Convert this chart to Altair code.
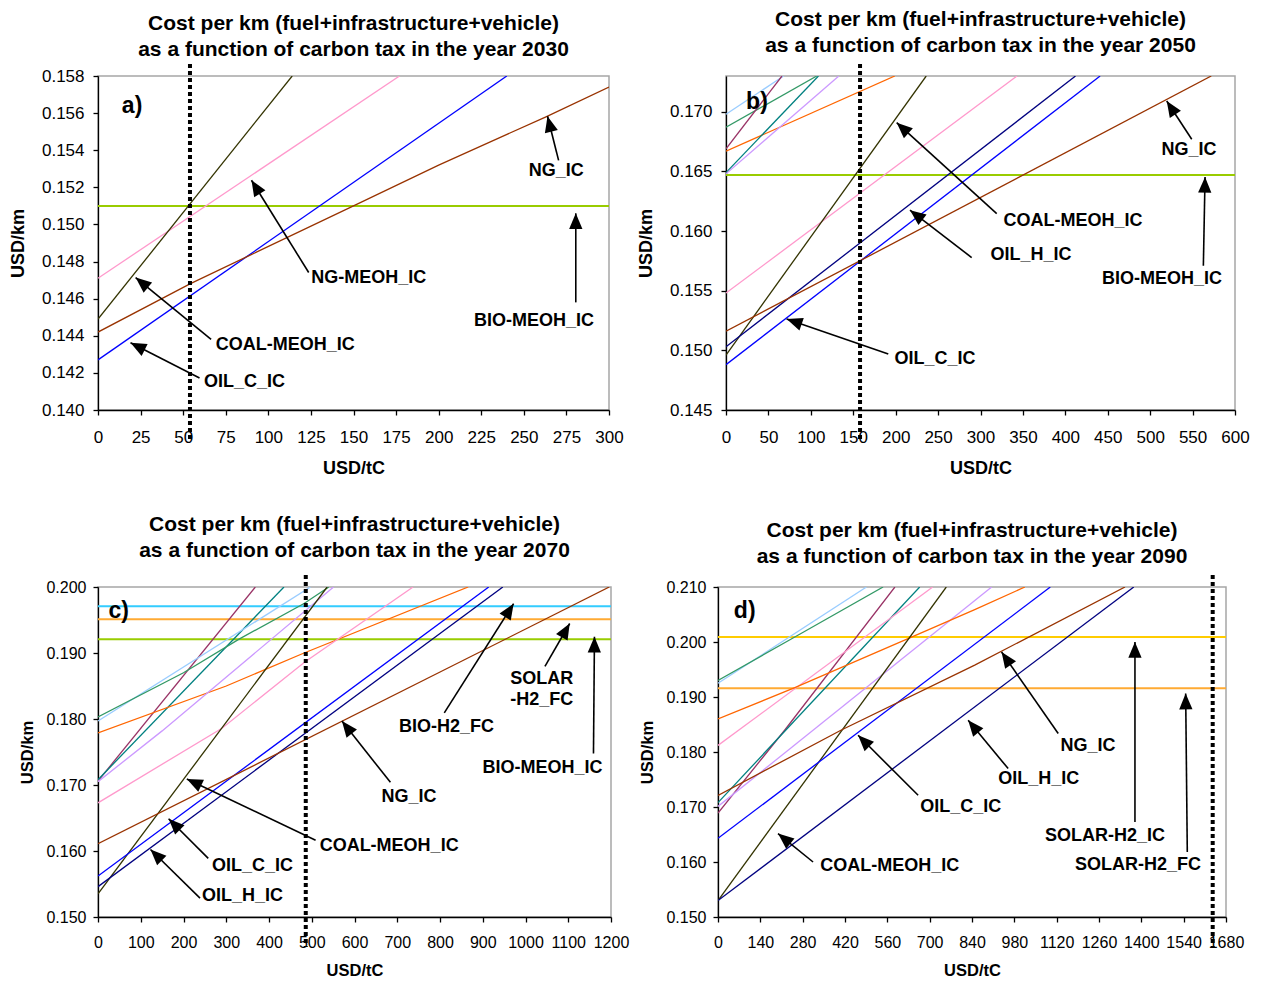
import math
import altair as alt
import pandas as pd

FONT = "Liberation Sans"

# ---------------- colours of the series ----------------
SERIES_COLORS = {
    "BIO-MEOH_IC": "#99CC00",
    "BIO-H2_FC": "#33CCFF",
    "SOLAR-H2_FC": "#FFAA33",
    "SOLAR-H2_IC": "#FFCC00",
    "other (light blue)": "#99CCFF",
    "other (green)": "#339966",
    "other (maroon)": "#993366",
    "other (teal)": "#008080",
    "other (lavender)": "#CC99FF",
    "other (orange)": "#FF6600",
    "NG-MEOH_IC": "#FF99CC",
    "COAL-MEOH_IC": "#333300",
    "OIL_C_IC": "#0000FF",
    "OIL_H_IC": "#000080",
    "NG_IC": "#993300",
}
FLAT = {"BIO-MEOH_IC", "BIO-H2_FC", "SOLAR-H2_FC", "SOLAR-H2_IC"}

# ---------------- panel a) 2030 ----------------
A_SERIES = {
    "BIO-MEOH_IC": ([0, 300], [0.1510, 0.1510]),
    "NG-MEOH_IC": ([0, 177], [0.1471, 0.1580]),
    "COAL-MEOH_IC": ([0, 114], [0.1449, 0.1580]),
    "OIL_C_IC": ([0, 240], [0.1427, 0.1580]),
    "NG_IC": ([0, 54, 150, 200, 263, 300], [0.1442, 0.1468, 0.1510, 0.1532, 0.1558, 0.1574]),
}
A_TEXT = ["NG_IC", "BIO-MEOH_IC", "NG-MEOH_IC", "COAL-MEOH_IC", "OIL_C_IC"]
A_TEXT_X = [269, 256, 159, 110, 86]
A_TEXT_Y = [0.1529, 0.1448, 0.1471, 0.1435, 0.1415]
A_FROM_X = [270.4, 280.5, 123.7, 66.4, 59.6]
A_FROM_Y = [0.15345, 0.1458, 0.14741, 0.1438, 0.14172]
A_TO_X = [263.9, 280.5, 90.1, 22.1, 19.1]
A_TO_Y = [0.15583, 0.1506, 0.15238, 0.14714, 0.14362]
A_TAX = [54]

# ---------------- panel b) 2050 ----------------
B_SERIES = {
    "BIO-MEOH_IC": ([0, 600], [0.1647, 0.1647]),
    "other (light blue)": ([0, 68], [0.1698, 0.1730]),
    "other (green)": ([0, 107], [0.1687, 0.1730]),
    "other (maroon)": ([0, 66], [0.1669, 0.1730]),
    "other (orange)": ([0, 199], [0.1667, 0.1730]),
    "other (teal)": ([0, 109], [0.1649, 0.1730]),
    "other (lavender)": ([0, 133], [0.1648, 0.1730]),
    "NG-MEOH_IC": ([0, 343], [0.1548, 0.1730]),
    "COAL-MEOH_IC": ([0, 236], [0.1496, 0.1730]),
    "OIL_H_IC": ([0, 412], [0.1503, 0.1730]),
    "OIL_C_IC": ([0, 441], [0.1488, 0.1730]),
    "NG_IC": ([0, 572], [0.1516, 0.1730]),
}
B_TEXT = ["COAL-MEOH_IC", "OIL_H_IC", "OIL_C_IC", "NG_IC", "BIO-MEOH_IC"]
B_TEXT_X = [409, 359.5, 246.4, 545.8, 514]
B_TEXT_Y = [0.16085, 0.1580, 0.1493, 0.1668, 0.1560]
B_FROM_X = [319.1, 289.6, 191.3, 549, 562.7]
B_FROM_Y = [0.16147, 0.15778, 0.14969, 0.1677, 0.15709]
B_TO_X = [201.2, 216.9, 71.5, 519.5, 564.7]
B_TO_Y = [0.16909, 0.16175, 0.15262, 0.1709, 0.16454]
B_TAX = [158]

# ---------------- panel c) 2070 ----------------
C_SERIES = {
    "BIO-H2_FC": ([0, 1200], [0.1971, 0.1971]),
    "SOLAR-H2_FC": ([0, 1200], [0.1951, 0.1951]),
    "BIO-MEOH_IC": ([0, 1200], [0.1921, 0.1921]),
    "other (maroon)": ([0, 368], [0.1706, 0.2000]),
    "other (teal)": ([0, 435], [0.1708, 0.2000]),
    "other (light blue)": ([0, 497], [0.1797, 0.2000]),
    "other (green)": ([0, 200, 330, 482, 540], [0.1803, 0.1870, 0.1921, 0.1975, 0.2000]),
    "other (orange)": ([0, 300, 482, 866], [0.1779, 0.1850, 0.1900, 0.2000]),
    "other (lavender)": ([0, 150, 551], [0.1705, 0.1782, 0.2000]),
    "NG-MEOH_IC": ([0, 290, 483, 737], [0.1673, 0.1786, 0.1886, 0.2000]),
    "COAL-MEOH_IC": ([0, 536], [0.1535, 0.2000]),
    "OIL_C_IC": ([0, 914], [0.1562, 0.2000]),
    "OIL_H_IC": ([0, 947], [0.1546, 0.2000]),
    "NG_IC": ([0, 1196], [0.1611, 0.2000]),
}
C_TEXT = ["COAL-MEOH_IC", "OIL_C_IC", "OIL_H_IC", "NG_IC", "BIO-H2_FC", "SOLAR", "-H2_FC", "BIO-MEOH_IC"]
C_TEXT_X = [681, 361.4, 338.2, 727.4, 815.4, 1037.8, 1037.8, 1040]
C_TEXT_Y = [0.1607, 0.1577, 0.1532, 0.16825, 0.17878, 0.1860, 0.18284, 0.17261]
C_FROM_X = [509, 257.9, 238.6, 684, 810, 1045.5, 1159]
C_FROM_Y = [0.16163, 0.15888, 0.15286, 0.1704, 0.18093, 0.18796, 0.17476]
C_TO_X = [207.8, 165.2, 122.8, 570.6, 972.2, 1103.4, 1161.3]
C_TO_Y = [0.17091, 0.16489, 0.16023, 0.17968, 0.19748, 0.19447, 0.19247]
C_TAX = [486]

# ---------------- panel d) 2090 ----------------
D_SERIES = {
    "SOLAR-H2_IC": ([0, 1680], [0.2009, 0.2009]),
    "SOLAR-H2_FC": ([0, 1680], [0.1916, 0.1916]),
    "other (light blue)": ([0, 491], [0.1925, 0.2100]),
    "other (green)": ([0, 254, 546], [0.1930, 0.2009, 0.2100]),
    "other (maroon)": ([0, 221, 585], [0.1689, 0.1840, 0.2100]),
    "other (teal)": ([0, 667], [0.1708, 0.2100]),
    "other (lavender)": ([0, 905], [0.1701, 0.2100]),
    "NG-MEOH_IC": ([0, 710], [0.1812, 0.2100]),
    "other (orange)": ([0, 254, 640, 849, 1015], [0.1860, 0.1917, 0.2009, 0.2059, 0.2100]),
    "COAL-MEOH_IC": ([0, 755], [0.1530, 0.2100]),
    "OIL_C_IC": ([0, 1099], [0.1643, 0.2100]),
    "NG_IC": ([0, 408, 849, 1346], [0.1721, 0.1840, 0.1958, 0.2100]),
    "OIL_H_IC": ([0, 1375], [0.1530, 0.2100]),
}
D_TEXT = ["COAL-MEOH_IC", "OIL_C_IC", "OIL_H_IC", "NG_IC", "SOLAR-H2_IC", "SOLAR-H2_FC"]
D_TEXT_X = [567.8, 803, 1061, 1223.3, 1280, 1389]
D_TEXT_Y = [0.15922, 0.16995, 0.17504, 0.18104, 0.16467, 0.1594]
D_FROM_X = [314.4, 661.8, 959.6, 1125.1, 1378.9, 1552]
D_FROM_Y = [0.1600, 0.17213, 0.17698, 0.18335, 0.16727, 0.16182]
D_TO_X = [198.5, 463.3, 827.3, 937.8, 1378.9, 1546.6]
D_TO_Y = [0.16516, 0.18304, 0.18576, 0.19818, 0.2000, 0.19062]
D_TAX = [1636]

TITLE_1 = "Cost per km (fuel+infrastructure+vehicle)"
TITLE_2 = "as a function of carbon tax in the year {}"

ARROW_HEAD = "M0,0 L-0.42,1 L0.42,1 Z"

TOP_STYLE = dict(lab=17, tit=18, ylp=9, ytp=14, xlp=14, xtp=14)
BOT_STYLE = dict(lab=16, tit=16.5, ylp=7, ytp=10, xlp=12, xtp=12)

ALL_NAMES = list(SERIES_COLORS.keys())
ALL_COLS = [SERIES_COLORS[n] for n in ALL_NAMES]


def build(series, xdom, ydom, xticks, yticks, w, h, year, toff,
          tl, tx, ty, fx, fy, ax, ay, letter, lx, ly, tax, st):
    rows = []
    for name, (xs, ys) in series.items():
        for i, (xv, yv) in enumerate(zip(xs, ys)):
            rows.append({"series": name, "x": xv, "y": yv, "i": i,
                         "w": 2.0 if name in FLAT else 1.3})
    df = pd.DataFrame(rows)

    xsc = alt.Scale(domain=xdom, nice=False, zero=False)
    ysc = alt.Scale(domain=ydom, nice=False, zero=False)
    xax = alt.Axis(values=xticks, format="d", title="USD/tC", labelFontSize=st["lab"],
                   titleFontSize=st["tit"], labelPadding=st["xlp"], titlePadding=st["xtp"],
                   labelOverlap=False, labelFlush=False)
    yax = alt.Axis(values=yticks, format=".3f", title="USD/km", labelFontSize=st["lab"],
                   titleFontSize=st["tit"], labelPadding=st["ylp"], titlePadding=st["ytp"],
                   labelOverlap=False, labelFlush=False)

    def X(f="x"):
        return alt.X(f + ":Q", scale=xsc, axis=xax)

    def Y(f="y"):
        return alt.Y(f + ":Q", scale=ysc, axis=yax)

    lines = alt.Chart(df).mark_line(clip=True).encode(
        x=X(), y=Y(),
        color=alt.Color("series:N", scale=alt.Scale(domain=ALL_NAMES, range=ALL_COLS), legend=None),
        strokeWidth=alt.StrokeWidth("w:Q", scale=None),
        order=alt.Order("i:Q"),
    )

    dot = alt.Chart(pd.DataFrame({"x": tax})).mark_rule(
        color="black", strokeWidth=4, strokeDash=[4, 3]
    ).encode(x=X(), y=alt.value(-12), y2=alt.value(h + 30))

    sx = w / (xdom[1] - xdom[0])
    sy = h / (ydom[1] - ydom[0])
    angles = []
    for a0, b0, a1, b1 in zip(fx, fy, ax, ay):
        dxp = (a1 - a0) * sx
        dyp = -(b1 - b0) * sy
        angles.append(math.degrees(math.atan2(dxp, -dyp)) % 360)
    adf = pd.DataFrame({"x": fx, "y": fy, "x2": ax, "y2": ay, "angle": angles})

    shafts = alt.Chart(adf).mark_rule(color="black", strokeWidth=1.6).encode(
        x=X(), y=Y(), x2="x2:Q", y2="y2:Q")
    heads = alt.Chart(adf).mark_point(
        shape=ARROW_HEAD, filled=True, color="black", size=1000, opacity=1, strokeWidth=0
    ).encode(x=X("x2"), y=Y("y2"), angle=alt.Angle("angle:Q", scale=None))

    tdf = pd.DataFrame({"x": tx, "y": ty, "label": tl})
    texts = alt.Chart(tdf).mark_text(
        font=FONT, fontSize=18, fontWeight="bold", color="black", align="center", baseline="middle"
    ).encode(x=X(), y=Y(), text="label:N")

    ldf = pd.DataFrame({"x": [lx], "y": [ly], "label": [letter]})
    let = alt.Chart(ldf).mark_text(
        font=FONT, fontSize=23, fontWeight="bold", color="black", align="center", baseline="middle"
    ).encode(x=X(), y=Y(), text="label:N")

    return alt.layer(lines, dot, shafts, heads, texts, let).properties(
        width=w, height=h,
        title=alt.TitleParams([TITLE_1, TITLE_2.format(year)], font=FONT, fontSize=21,
                              fontWeight="bold", color="black", anchor="middle",
                              offset=toff, lineHeight=26),
    )


pa = build(A_SERIES, [0, 300], [0.140, 0.158], list(range(0, 301, 25)),
           [0.140, 0.142, 0.144, 0.146, 0.148, 0.150, 0.152, 0.154, 0.156, 0.158],
           511, 334, 2030, 2, A_TEXT, A_TEXT_X, A_TEXT_Y, A_FROM_X, A_FROM_Y, A_TO_X, A_TO_Y,
           "a)", 20, 0.1564, A_TAX, TOP_STYLE)
pb = build(B_SERIES, [0, 600], [0.145, 0.173], list(range(0, 601, 50)),
           [0.145, 0.150, 0.155, 0.160, 0.165, 0.170],
           509, 334, 2050, 6, B_TEXT, B_TEXT_X, B_TEXT_Y, B_FROM_X, B_FROM_Y, B_TO_X, B_TO_Y,
           "b)", 36.5, 0.1708, B_TAX, TOP_STYLE)
pc = build(C_SERIES, [0, 1200], [0.150, 0.200], list(range(0, 1201, 100)),
           [0.150, 0.160, 0.170, 0.180, 0.190, 0.200],
           513, 330, 2070, 12, C_TEXT, C_TEXT_X, C_TEXT_Y, C_FROM_X, C_FROM_Y, C_TO_X, C_TO_Y,
           "c)", 48.6, 0.1964, C_TAX, BOT_STYLE)
pd_ = build(D_SERIES, [0, 1680], [0.150, 0.210], list(range(0, 1681, 140)),
            [0.150, 0.160, 0.170, 0.180, 0.190, 0.200, 0.210],
            508, 330, 2090, 6, D_TEXT, D_TEXT_X, D_TEXT_Y, D_FROM_X, D_FROM_Y, D_TO_X, D_TO_Y,
            "d)", 88.4, 0.2056, D_TAX, BOT_STYLE)

top = alt.hconcat(pa, pb, spacing=12)
bottom = alt.hconcat(pc, pd_, spacing=9)
chart = alt.vconcat(top, bottom, spacing=35).properties(
    padding={"left": 0, "top": 0, "right": 0, "bottom": 0}
).configure(background="white").configure_view(
    stroke="#A6A6A6", strokeWidth=1.5
).configure_axis(
    domainColor="black", tickColor="black", labelColor="black", titleColor="black",
    labelFont=FONT, titleFont=FONT, titleFontWeight="bold", grid=False,
    tickSize=5, domainWidth=1.3, tickWidth=1.3,
)

chart.save("out.html", embed_options={"renderer": "svg", "actions": False})
